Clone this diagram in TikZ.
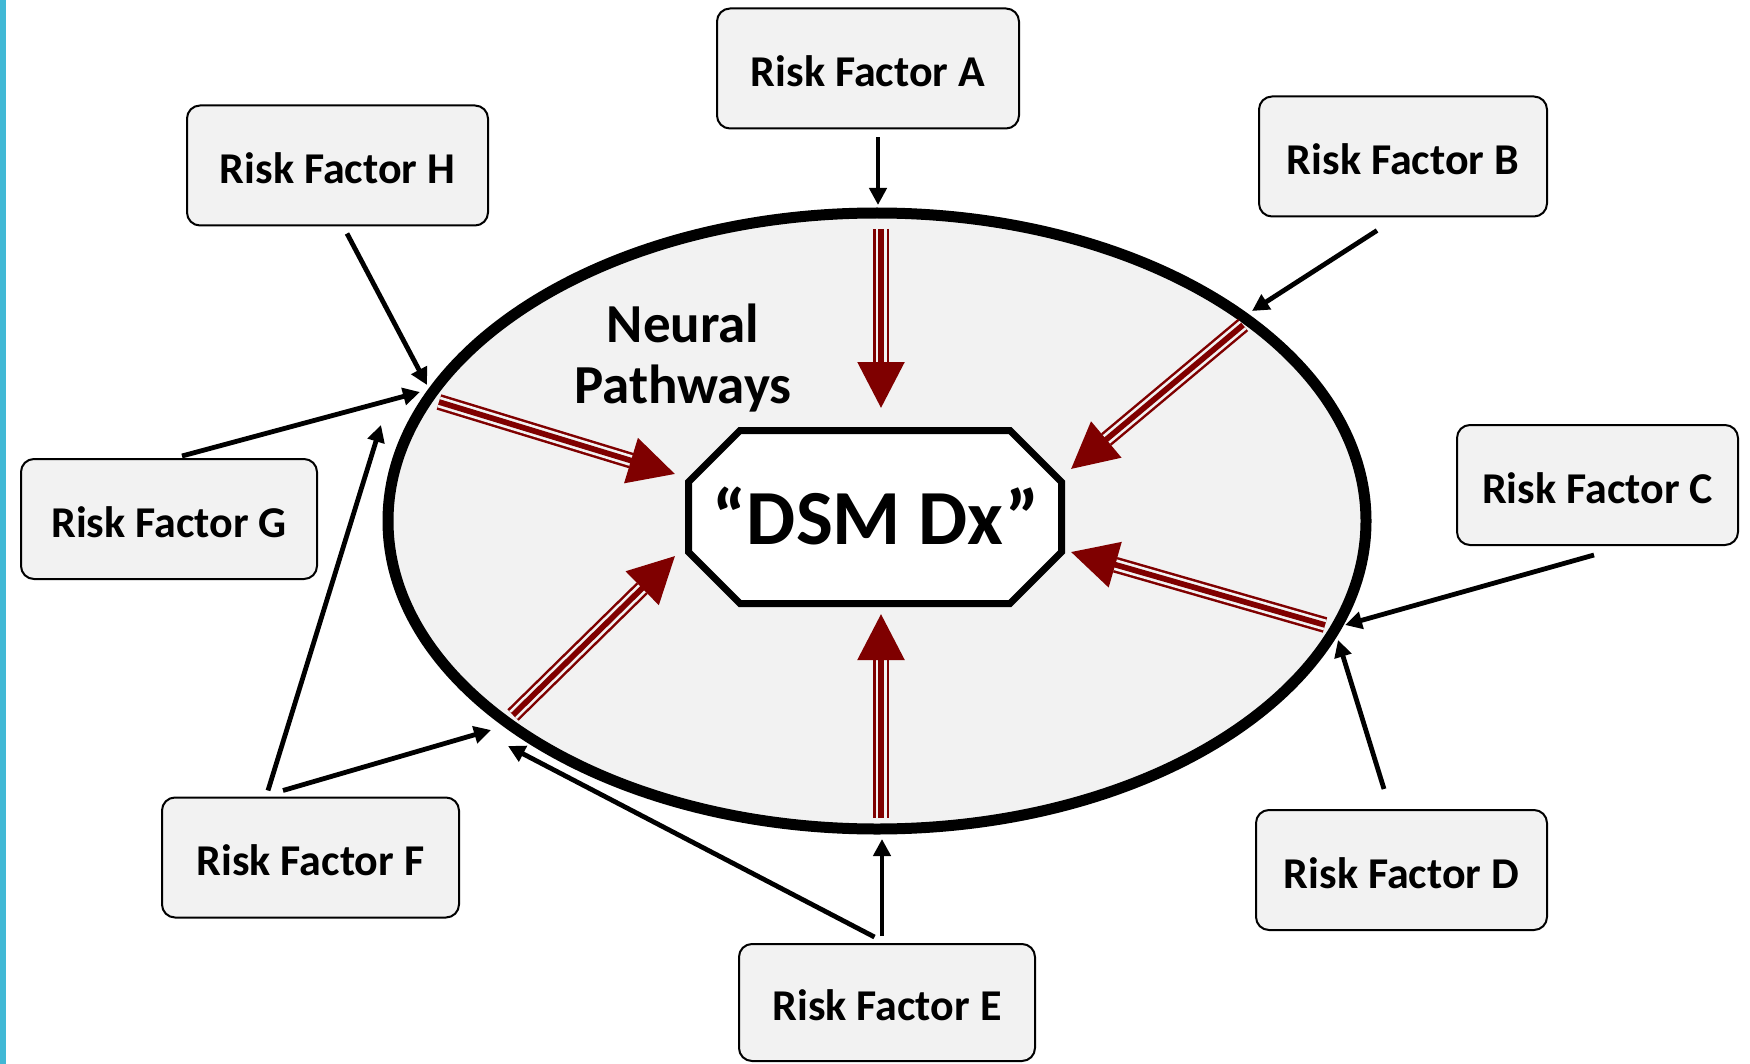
\documentclass[tikz,border=0pt]{standalone}
\usepackage{fontspec}
\setmainfont{Carlito}
\usetikzlibrary{arrows.meta}

\definecolor{ringgray}{HTML}{F2F2F2}
\definecolor{pathred}{HTML}{7F0000}
\definecolor{edgeblue}{HTML}{41B8D5}

\tikzset{
  riskbox/.style={draw, line width=1pt, fill=ringgray, rounded corners=6.5pt,
    minimum height=60pt, inner sep=0pt, text height=18pt, text depth=0pt,
    font=\fontsize{22pt}{26pt}\selectfont\bfseries},
  feed/.style={line width=2.4pt, -{Triangle[length=8.5pt,width=8.5pt]}},
  pathway/.style={draw=pathred, line width=1.25pt, double=ringgray,
    double distance=5.5pt, shorten >=23pt},
  pathcore/.style={draw=pathred, line width=2.85pt, -{Triangle[length=23pt,width=23pt]}}
}

\begin{document}
\begin{tikzpicture}[x=0.5pt,y=-0.5pt]
	\useasboundingbox (0,0) rectangle (1750,1064);
	\fill[edgeblue] (0,0) rectangle (6,1064);

	% the ring
	\draw[line width=5.5pt, fill=ringgray] (877,521) ellipse [x radius=244.5pt, y radius=154pt];
	\node[font=\fontsize{27.5pt}{30.5pt}\selectfont\bfseries, align=center] (np) at (683,358) {Neural\\Pathways};

	% diagnosis in the middle
	\draw[line width=3.5pt, fill=white] (740,430.5) -- (1010,430.5) -- (1061.5,482) -- (1061.5,552)
		-- (1010,603.5) -- (740,603.5) -- (688.5,552) -- (688.5,482) -- cycle;
	\node[anchor=base, font=\fontsize{39pt}{42pt}\selectfont\bfseries] (dx) at (876,544) {“DSM Dx”};

	% pathways
	\coordinate (pA) at (881,229);  \coordinate (tA) at (881,408);
	\coordinate (pB) at (1243,325); \coordinate (tB) at (1071,469);
	\coordinate (pC) at (1325,625); \coordinate (tC) at (1071,552);
	\coordinate (pE) at (881,818);  \coordinate (tE) at (881,614);
	\coordinate (pF) at (513,715);  \coordinate (tF) at (675,556);
	\coordinate (pH) at (439,402);  \coordinate (tH) at (675,474);

	\draw[pathway] (pA) -- (tA);  \draw[pathcore] (pA) -- (tA);
	\draw[pathway] (pB) -- (tB);  \draw[pathcore] (pB) -- (tB);
	\draw[pathway] (pC) -- (tC);  \draw[pathcore] (pC) -- (tC);
	\draw[pathway] (pE) -- (tE);  \draw[pathcore] (pE) -- (tE);
	\draw[pathway] (pF) -- (tF);  \draw[pathcore] (pF) -- (tF);
	\draw[pathway] (pH) -- (tH);  \draw[pathcore] (pH) -- (tH);

	% risk factors
	\node[riskbox, minimum width=151pt] (rfA) at (868,68.5) {Risk Factor A};
	\node[riskbox, minimum width=144pt] (rfB) at (1403,156.5) {Risk Factor B};
	\node[riskbox, minimum width=140.5pt] (rfC) at (1597.5,485) {Risk Factor C};
	\node[riskbox, minimum width=145.5pt] (rfD) at (1401.5,870) {Risk Factor D};
	\node[riskbox, minimum width=148pt, minimum height=58.5pt] (rfE) at (887,1002.5) {Risk Factor E};
	\node[riskbox, minimum width=148.5pt] (rfF) at (310.5,857.5) {Risk Factor F};
	\node[riskbox, minimum width=148pt] (rfG) at (169,519) {Risk Factor G};
	\node[riskbox, minimum width=150.5pt] (rfH) at (337.5,165.5) {Risk Factor H};

	% where they hit the ring
	\coordinate (eA) at (878,205);
	\coordinate (eB) at (1252,311);
	\coordinate (eC) at (1345,625);
	\coordinate (eD) at (1338,640);
	\coordinate (eE1) at (882,839);
	\coordinate (eE2) at (508,746);
	\coordinate (eF1) at (381,425);
	\coordinate (eF2) at (491,730);
	\coordinate (eG) at (420,392);
	\coordinate (eH) at (427,385);

	\draw[feed] ([shift={(5pt,-4pt)}]rfA.south) -- (eA);
	\draw[feed] ([shift={(-13pt,-6.5pt)}]rfB.south) -- (eB);
	\draw[feed] ([shift={(-1.75pt,-4.5pt)}]rfC.south) -- (eC);
	\draw[feed] ([shift={(-8.75pt,10pt)}]rfD.north) -- (eD);
	\draw[feed] ([shift={(-2.5pt,3.5pt)}]rfE.north) -- (eE1);
	\draw[feed] ([shift={(-6.25pt,3pt)}]rfE.north) -- (eE2);
	\draw[feed] ([shift={(-21.25pt,3pt)}]rfF.north) -- (eF1);
	\draw[feed] ([shift={(-13.75pt,3pt)}]rfF.north) -- (eF2);
	\draw[feed] ([shift={(6.5pt,1pt)}]rfG.north) -- (eG);
	\draw[feed] ([shift={(4.75pt,-3.5pt)}]rfH.south) -- (eH);
\end{tikzpicture}
\end{document}
